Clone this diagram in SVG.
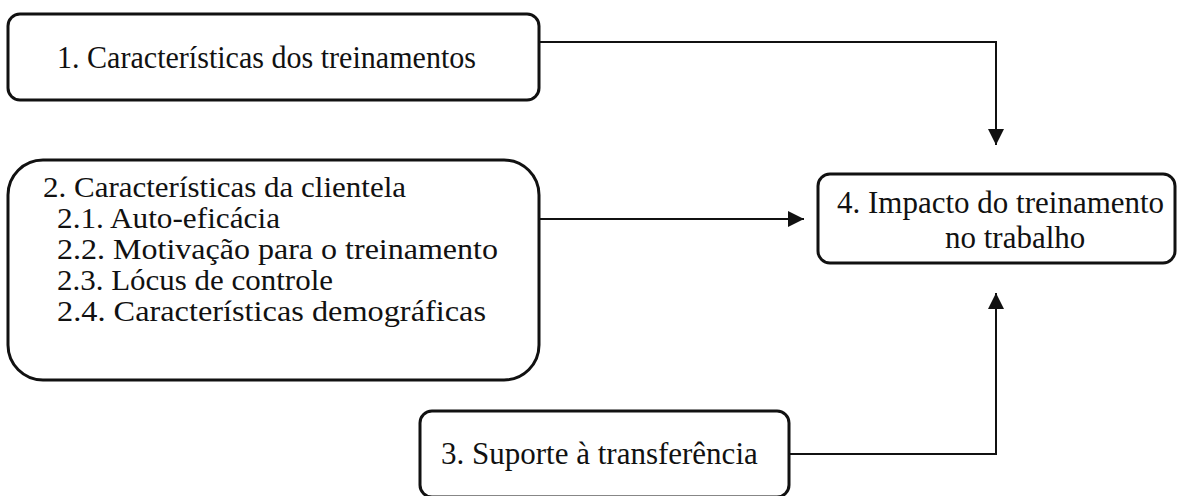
<svg xmlns="http://www.w3.org/2000/svg" width="1177" height="496" viewBox="0 0 1177 496">
<style>
.box{fill:#fff;stroke:#111;stroke-width:3}
.t{font-family:"Liberation Serif","Times New Roman",serif;font-size:31px;fill:#111}
.s{font-size:29px}
.c{fill:none;stroke:#111;stroke-width:2}
</style>
<defs>
<marker id="ah" viewBox="0 0 16 16" refX="16" refY="8" markerWidth="16" markerHeight="16" markerUnits="userSpaceOnUse" orient="auto">
<path d="M0,0 L16,8 L0,16 Z" fill="#111"/>
</marker>
</defs>
<rect width="1177" height="496" fill="#fff"/>
<g id="connectors">
<path class="c" d="M539,42 H996 V145" marker-end="url(#ah)"/>
<path class="c" d="M539,219 H804" marker-end="url(#ah)"/>
<path class="c" d="M789,454 H996 V293" marker-end="url(#ah)"/>
</g>
<g id="node1">
<rect class="box" x="8" y="14" width="531" height="86" rx="12"/>
<text class="t" x="57" y="68" textLength="419" lengthAdjust="spacingAndGlyphs">1. Características dos treinamentos</text>
</g>
<g id="node2">
<rect class="box" x="8" y="160" width="531" height="220" rx="35"/>
<text class="t s" x="43" y="197" textLength="363" lengthAdjust="spacingAndGlyphs">2. Características da clientela</text>
<text class="t s" x="57" y="228" textLength="223" lengthAdjust="spacingAndGlyphs">2.1. Auto-eficácia</text>
<text class="t s" x="57" y="259" textLength="441" lengthAdjust="spacingAndGlyphs">2.2. Motivação para o treinamento</text>
<text class="t s" x="57" y="290" textLength="276" lengthAdjust="spacingAndGlyphs">2.3. Lócus de controle</text>
<text class="t s" x="57" y="321" textLength="429" lengthAdjust="spacingAndGlyphs">2.4. Características demográficas</text>
</g>
<g id="node3">
<rect class="box" x="420" y="411" width="369" height="86" rx="12"/>
<text class="t" x="441" y="464">3. Suporte à transferência</text>
</g>
<g id="node4">
<rect class="box" x="818" y="174" width="357" height="89" rx="12"/>
<text class="t" x="837" y="213">4. Impacto do treinamento</text>
<text class="t" x="945" y="248">no trabalho</text>
</g>
</svg>
